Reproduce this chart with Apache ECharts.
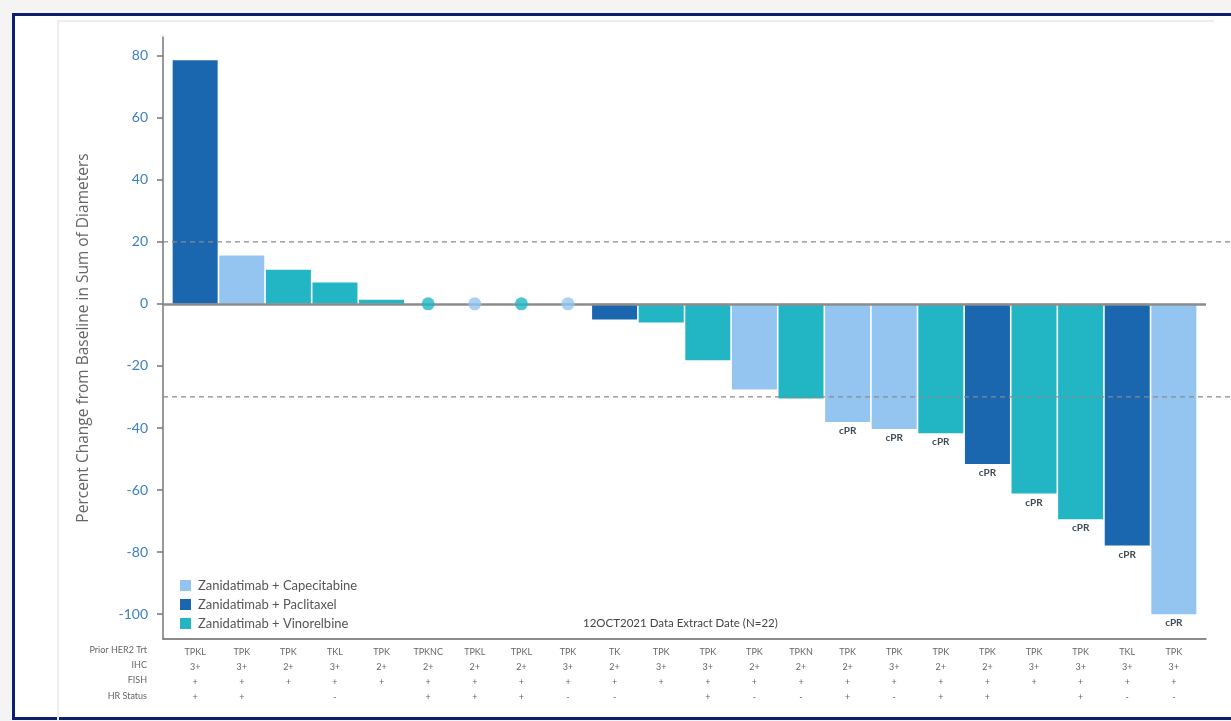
<!DOCTYPE html>
<html>
<head>
<meta charset="utf-8">
<script src="https://cdn.jsdelivr.net/npm/echarts@6/dist/echarts.min.js"></script>
<style>
  html, body { margin: 0; padding: 0; background: #f4f4f4; width: 1231px; height: 721px; overflow: hidden; }
  #frame { position: absolute; left: 12px; top: 13px; width: 1240px; height: 707px; box-sizing: border-box;
           border: 3px solid #0c1f6e; background: #fff; }
  #inner { position: absolute; left: 57px; top: 20px; width: 1157px; height: 700px; box-sizing: border-box;
           border-top: 2px solid #ededed; border-left: 2px solid #ededed; }
  #chart { position: absolute; left: 0; top: 0; width: 1231px; height: 721px; }
</style>
</head>
<body>
<div id="frame"></div>
<div id="inner"></div>
<div id="chart"></div>
<script>
// Best percent change from baseline in sum of diameters, one entry per patient
const patientValues = [78.5, 15.6, 11.0, 6.9, 1.3, 0, 0, 0, 0, -5.0, -6.0, -18.2, -27.6, -30.5, -38.1, -40.3, -41.7, -51.6, -61.1, -69.4, -77.9, -100];
// Treatment regimen per patient: C = Capecitabine, P = Paclitaxel, V = Vinorelbine
const regimen = ['P','C','V','V','V','V','C','V','C','P','V','V','C','V','C','C','V','P','V','V','P','C'];
// Confirmed response annotations
const response = ['','','','','','','','','','','','','','','cPR','cPR','cPR','cPR','cPR','cPR','cPR','cPR'];
// Table rows under the chart
const priorTrt = ['TPKL','TPK','TPK','TKL','TPK','TPKNC','TPKL','TPKL','TPK','TK','TPK','TPK','TPK','TPKN','TPK','TPK','TPK','TPK','TPK','TPK','TKL','TPK'];
const ihc = ['3+','3+','2+','3+','2+','2+','2+','2+','3+','2+','3+','3+','2+','2+','2+','3+','2+','2+','3+','3+','3+','3+'];
const fish = ['+','+','+','+','+','+','+','+','+','+','+','+','+','+','+','+','+','+','+','+','+','+'];
const hrStatus = ['+','+','','-','','+','+','+','-','-','','+','-','-','+','-','+','+','','+','-','-'];
const rowHeaders = ['Prior HER2 Trt', 'IHC', 'FISH', 'HR Status'];
// Regimen legend entries and y-axis ticks
const regimenNames = { C: 'Zanidatimab + Capecitabine', P: 'Zanidatimab + Paclitaxel', V: 'Zanidatimab + Vinorelbine' };
const regimenOrder = ['C', 'P', 'V'];
const yTicks = [-100, -80, -60, -40, -20, 0, 20, 40, 60, 80];
const thresholds = [20, -30];

const colors = { C: '#94c5f1', P: '#1a67b0', V: '#22b6c4' };
const FONT = 'Lato, "Open Sans", sans-serif';
const idx = patientValues.map((_, i) => i);

const chart = echarts.init(document.getElementById('chart'), null, { renderer: 'canvas' });

const barSeries = regimenOrder.map((g, k) => ({
  name: regimenNames[g],
  type: 'bar',
  stack: 'wf',
  barWidth: 45,
  xAxisIndex: 0, yAxisIndex: 0,
  itemStyle: { color: colors[g] },
  z: 2,
  label: {
    show: true, position: 'bottom', distance: 4,
    fontFamily: FONT, fontSize: 10, fontWeight: 'bold', color: '#3e4a55',
    formatter: p => response[p.value[0]]
  },
  data: idx.filter(i => regimen[i] === g && patientValues[i] !== 0).map(i => [i, patientValues[i]]),
  markLine: k === 0 ? {
    silent: true, symbol: 'none', label: { show: false },
    lineStyle: { color: '#8c8c8c', width: 2.5, type: 'solid' },
    data: [{ yAxis: 0 }]
  } : undefined
}));

const option = {
  backgroundColor: 'transparent',
  animation: false,
  textStyle: { fontFamily: FONT },
  grid: [
    { left: 163, right: 25, top: 37, bottom: 82, containLabel: false },
    { left: 163, right: 0, top: 37, bottom: 82, containLabel: false }
  ],
  legend: {
    orient: 'vertical', left: 175, top: 574,
    itemWidth: 11, itemHeight: 11, itemGap: 6,
    icon: 'rect',
    data: regimenOrder.map(g => regimenNames[g]),
    textStyle: { fontFamily: FONT, fontSize: 13, color: '#555', padding: [0, 0, 0, 2] }
  },
  xAxis: [
    {
      type: 'value', gridIndex: 0, min: -0.69, max: 21.69,
      axisLine: { show: true, onZero: false, lineStyle: { color: '#666', width: 1.5 } },
      axisTick: { show: false }, splitLine: { show: false },
      axisLabel: {
        customValues: idx, margin: 5,
        fontFamily: FONT, fontSize: 9, color: '#666', lineHeight: 15.2,
        formatter: v => [priorTrt[v], ihc[v], fish[v], hrStatus[v] || ' '].join('\n')
      }
    },
    { type: 'value', gridIndex: 1, min: 0, max: 1, show: false }
  ],
  yAxis: [
    {
      type: 'value', gridIndex: 0, min: -108, max: 86,
      name: 'Percent Change from Baseline in Sum of Diameters',
      nameLocation: 'middle', nameGap: 71, nameRotate: 90,
      nameTextStyle: { fontFamily: '"Open Sans", Lato, sans-serif', fontSize: 15.5, color: '#666' },
      axisLine: { show: true, onZero: false, lineStyle: { color: '#777', width: 1.5 } },
      axisTick: { show: true, customValues: yTicks, length: 6, lineStyle: { color: '#777', width: 1.5 } },
      axisLabel: { customValues: yTicks, margin: 15, fontFamily: FONT, fontSize: 14, color: '#3d80c4' },
      splitLine: { show: false }
    },
    { type: 'value', gridIndex: 1, min: -108, max: 86, show: false }
  ],
  series: [
    ...barSeries,
    {
      type: 'scatter', xAxisIndex: 0, yAxisIndex: 0, symbolSize: 13, z: 6,
      data: idx.filter(i => patientValues[i] === 0).map(i => ({ value: [i, 0], itemStyle: { color: colors[regimen[i]] } }))
    },
    ...thresholds.map(t => ({
      type: 'line', xAxisIndex: 1, yAxisIndex: 1, symbol: 'none', z: 5, silent: true,
      lineStyle: { color: '#8a8a8a', width: 1.3, type: [5, 4] },
      data: [[0, t], [1, t]]
    }))
  ],
  graphic: [
    ...rowHeaders.map((h, r) => ({
      type: 'text', right: 1231 - 147, top: 645.5 + r * 15.2,
      style: { text: h, fontFamily: FONT, fontSize: 9, fill: '#666', textAlign: 'right' }
    })),
    {
      type: 'text', left: 583, top: 617,
      style: { text: '12OCT2021 Data Extract Date (N=22)', fontFamily: FONT, fontSize: 11.5, fill: '#444' }
    }
  ]
};

chart.setOption(option);
</script>
</body>
</html>
